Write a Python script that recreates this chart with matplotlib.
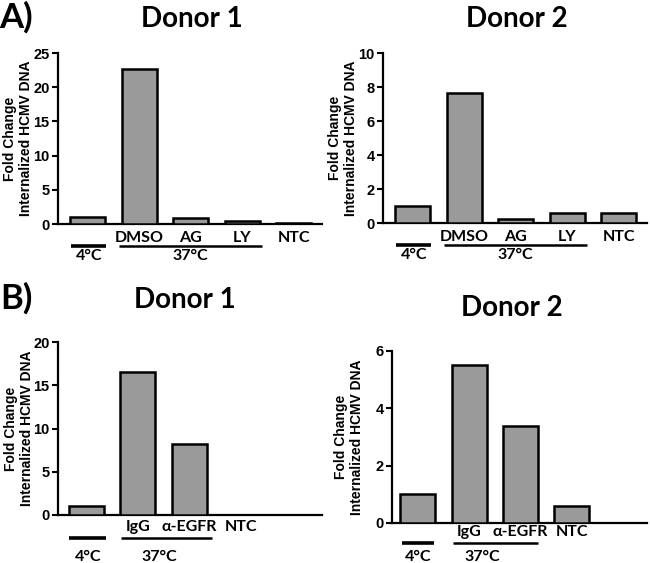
import matplotlib
matplotlib.use("Agg")
import matplotlib.pyplot as plt
import matplotlib.transforms as mtransforms

# ---------------- data ----------------
catsA = ["", "DMSO", "AG", "LY", "NTC"]
a_donor1 = [1.0, 22.6, 0.9, 0.45, 0.1]
a_donor2 = [1.0, 7.66, 0.25, 0.6, 0.6]

catsB = ["", "IgG", "\u03b1-EGFR", "NTC"]
b_donor1 = [1.0, 16.5, 8.2, 0.0]
b_donor2 = [1.0, 5.52, 3.38, 0.6]

group_labels = ["4\u00b0C", "37\u00b0C"]

W, H = 650, 563
fig = plt.figure(figsize=(W / 100, H / 100), dpi=100)

TXT = "Lato"
ARIAL = "Liberation Sans"
BAR = "#9a9a9a"


def make_ax(left, right, top, bottom):
    return fig.add_axes([left / W, 1 - bottom / H, (right - left) / W, (bottom - top) / H])


def panel(ax, cats, vals, ymax, yticks, xlim, cat_dy, line_dy, lab_dy,
          g4, g37, g37_lab, ylab_px):
    x = list(range(len(vals)))
    ax.bar(x, vals, width=0.68, color=BAR, edgecolor="black", linewidth=1.8, zorder=3)
    ax.set_xlim(*xlim)
    ax.set_ylim(0, ymax)
    ax.set_yticks(yticks)
    ax.set_yticklabels([str(t) for t in yticks], fontfamily=ARIAL, fontweight="bold", fontsize=10.5)
    ax.set_xticks([])
    for s in ["top", "right"]:
        ax.spines[s].set_visible(False)
    for s in ["left", "bottom"]:
        ax.spines[s].set_linewidth(1.6)
    ax.tick_params(axis="y", length=4.5, width=1.5, pad=1.5)
    ax.set_ylabel("Fold Change\nInternalized HCMV DNA", fontfamily=ARIAL, fontweight="bold",
                  fontsize=10, linespacing=1.15)
    w_px = ax.get_position().width * W
    h_px = ax.get_position().height * H
    ax.yaxis.set_label_coords(-ylab_px / w_px, 0.5)
    ax.yaxis.label.set_va("center")

    tr = mtransforms.blended_transform_factory(ax.transData, ax.transAxes)
    for xi, c in zip(x, cats):
        if c:
            ax.text(xi, -cat_dy / h_px, c, transform=tr, ha="center", va="center",
                    fontfamily=TXT, fontweight="bold", fontsize=11.5, clip_on=False)
    # group lines
    ax.plot([g4[0], g4[1]], [-line_dy / h_px] * 2, transform=tr, color="black",
            lw=2.6, clip_on=False, solid_capstyle="butt")
    ax.plot([g37[0], g37[1]], [-line_dy / h_px] * 2, transform=tr, color="black",
            lw=1.8, clip_on=False, solid_capstyle="butt")
    ax.text((g4[0] + g4[1]) / 2, -lab_dy / h_px, group_labels[0], transform=tr,
            ha="center", va="center", fontfamily=TXT, fontweight="bold", fontsize=11.5)
    ax.text(g37_lab, -lab_dy / h_px, group_labels[1], transform=tr,
            ha="center", va="center", fontfamily=TXT, fontweight="bold", fontsize=11.5)


axA1 = make_ax(58, 322, 53, 224)
panel(axA1, catsA, a_donor1, 25, [0, 5, 10, 15, 20, 25], (-0.58, 4.55),
      14, 22, 32, (-0.32, 0.36), (0.61, 3.39), 2.0, 40)

axA2 = make_ax(383, 647, 53, 223)
panel(axA2, catsA, a_donor2, 10, [0, 2, 4, 6, 8, 10], (-0.58, 4.55),
      14, 22, 32, (-0.32, 0.36), (0.61, 3.39), 2.0, 40)

axB1 = make_ax(58, 322, 342, 515)
panel(axB1, catsB, b_donor1, 20, [0, 5, 10, 15, 20], (-0.55, 4.57),
      12, 23, 42, (-0.33, 0.39), (0.68, 2.43), 1.42, 39)

axB2 = make_ax(392, 647, 351, 523)
panel(axB2, catsB, b_donor2, 6, [0, 2, 4, 6], (-0.5, 4.46),
      9, 20, 34, (-0.30, 0.32), (0.69, 2.34), 1.25, 43)

# titles
def ftext(xp, yp, s, size):
    fig.text(xp / W, 1 - yp / H, s, ha="center", va="center", fontfamily=TXT,
             fontweight="bold", fontsize=size)

ftext(192, 19, "Donor 1", 20)
ftext(517, 19, "Donor 2", 20)
ftext(185, 300, "Donor 1", 20)
ftext(512, 308, "Donor 2", 20)
ftext(16, 17, "A)", 25)
ftext(16, 298, "B)", 25)

fig.savefig("out.png", dpi=100)
